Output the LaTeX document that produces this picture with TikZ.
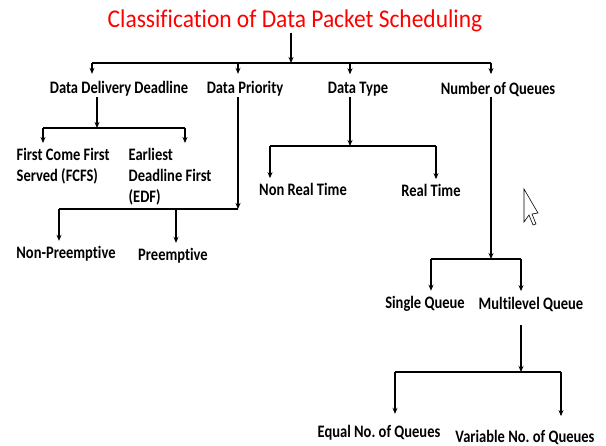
\documentclass[tikz,border=0pt]{standalone}
\usepackage{fontspec}
\setmainfont{Carlito}[Ligatures=NoCommon]
\newfontfamily\lblfont{Carlito}[Ligatures=NoCommon,FakeStretch=0.83]
\newfontfamily\ttlfont{Carlito}[Ligatures=NoCommon,FakeStretch=0.92]
\usetikzlibrary{arrows.meta}
\begin{document}
\frenchspacing
\begin{tikzpicture}[x=1pt,y=-1pt,every path/.style={line width=1.3pt}]
  \tikzset{lbl/.style={font=\lblfont\bfseries\fontsize{17.5}{21}\selectfont,inner sep=0pt}};
  \tikzset{arr/.style={-{Stealth[length=6pt,width=5pt]}}};
  \tikzset{into/.style={arr,shorten >=#1}};
  \useasboundingbox (0,0) rectangle (606,446);
  \node[text=red,font=\ttlfont\fontsize{25.5}{28}\selectfont,inner sep=0pt] (title) at (295,21) {Classification of Data Packet Scheduling};
  \node[lbl] (ddd) at (119,89) {Data Delivery Deadline};
  \node[lbl] (dp) at (245,89) {Data Priority};
  \node[lbl] (dt) at (358,89) {Data Type};
  \node[lbl] (nq) at (498,89) {Number of Queues};
  \node[lbl,align=left,anchor=north west] (fcfs) at (16,148) {First Come First\\Served (FCFS)};
  \node[lbl,align=left,anchor=north west] (edf) at (128,148) {Earliest\\Deadline First\\(EDF)};
  \node[lbl] (npre) at (66,254) {Non-Preemptive};
  \node[lbl] (pre) at (173,256) {Preemptive};
  \node[lbl] (nrt) at (303,189) {Non Real Time};
  \node[lbl] (rt) at (431,190) {Real Time};
  \node[lbl] (sq) at (425,304) {Single Queue};
  \node[lbl] (mq) at (531,304) {Multilevel Queue};
  \node[lbl] (eq) at (379,433) {Equal No. of Queues};
  \node[lbl] (vq) at (525,437) {Variable No. of Queues};
  % root
  \coordinate (rb) at (291,63);
  \coordinate (r1) at (92,63);
  \coordinate (r2) at (238,63);
  \coordinate (r3) at (350,63);
  \coordinate (r4) at (491,63);
  \draw[arr] (title.south -| rb) -- (rb);
  \draw (r1) -- (r4);
  \draw[into=7pt] (r1) -- (r1 |- ddd.north);
  \draw[into=7pt] (r2) -- (r2 |- dp.north);
  \draw[into=7pt] (r3) -- (r3 |- dt.north);
  \draw[into=7pt] (r4) -- (r4 |- nq.north);
  % data delivery deadline
  \coordinate (db) at (97,128);
  \coordinate (d1) at (43,128);
  \coordinate (d2) at (185,128);
  \draw[arr] (ddd.south -| db) -- (db);
  \draw (d1) -- (d2);
  \draw[into=5pt] (d1) -- (d1 |- fcfs.north);
  \draw[into=5pt] (d2) -- (d2 |- edf.north);
  % data priority
  \coordinate (pb) at (238,209);
  \coordinate (p1) at (59,209);
  \coordinate (p2) at (176,209);
  \draw[arr] (dp.south -| pb) -- (pb);
  \draw (p1) -- (pb);
  \draw[into=5pt] (p1) -- (p1 |- npre.north);
  \draw[into=5pt] (p2) -- (p2 |- pre.north);
  % data type
  \coordinate (tb) at (350,146);
  \coordinate (t1) at (270,146);
  \coordinate (t2) at (436,146);
  \draw[arr] (dt.south -| tb) -- (tb);
  \draw (t1) -- (t2);
  \draw[into=4pt] (t1) -- (t1 |- nrt.north);
  \draw[into=4pt] (t2) -- (t2 |- rt.north);
  % number of queues
  \coordinate (qb) at (491,259);
  \coordinate (q1) at (431,259);
  \coordinate (q2) at (521,259);
  \draw[arr] (nq.south -| qb) -- (qb);
  \draw (q1) -- (q2);
  \draw[into=5pt] (q1) -- (q1 |- sq.north);
  \draw[into=5pt] (q2) -- (q2 |- mq.north);
  % multilevel queue
  \coordinate (mb) at (521,372);
  \coordinate (m1) at (395,372);
  \coordinate (m2) at (561,372);
  \draw[arr,shorten <=13pt] (mq.south -| mb) -- (mb);
  \draw (m1) -- (m2);
  \draw[into=11pt] (m1) -- (m1 |- eq.north);
  \draw[into=13pt] (m2) -- (m2 |- vq.north);
  % pointer
  \draw[line width=0.6pt,fill=white] (524,189) -- (524,222) -- (529,215) -- (533,225) -- (536,224) -- (532,214) -- (538,213) -- cycle;
\end{tikzpicture}
\end{document}
